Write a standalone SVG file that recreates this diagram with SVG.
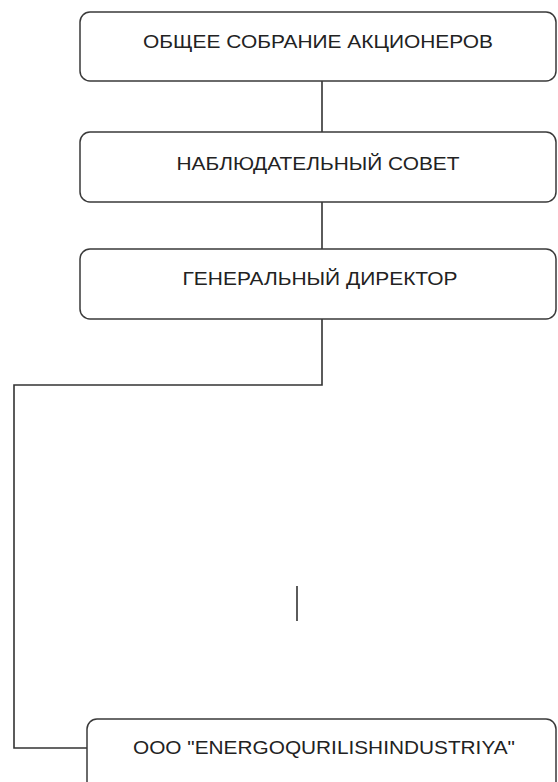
<svg xmlns="http://www.w3.org/2000/svg" width="558" height="782" viewBox="0 0 558 782">
<style>
.box{fill:#fff;stroke:#3a3a3a;stroke-width:1.5}
.lbl{font-family:"Liberation Sans",Arial,sans-serif;font-size:19px;fill:#222;text-anchor:middle}
.con{fill:none;stroke:#333;stroke-width:1.6}
</style>
<rect width="558" height="782" fill="#fff"/>
<g id="connectors">
<line class="con" x1="322" y1="81" x2="322" y2="132"/>
<line class="con" x1="322" y1="202" x2="322" y2="249"/>
<polyline class="con" points="322,319 322,385 14,385 14,748 87,748"/>
<line class="con" x1="297" y1="586" x2="297" y2="621"/>
</g>
<g id="node1">
<rect class="box" x="80" y="12" width="476" height="69" rx="10"/>
<text class="lbl" x="318" y="48" textLength="350" lengthAdjust="spacingAndGlyphs">ОБЩЕЕ СОБРАНИЕ АКЦИОНЕРОВ</text>
</g>
<g id="node2">
<rect class="box" x="80" y="132" width="476" height="70" rx="10"/>
<text class="lbl" x="318" y="170" textLength="283" lengthAdjust="spacingAndGlyphs">НАБЛЮДАТЕЛЬНЫЙ СОВЕТ</text>
</g>
<g id="node3">
<rect class="box" x="80" y="249" width="476" height="70" rx="10"/>
<text class="lbl" x="320" y="285" textLength="275" lengthAdjust="spacingAndGlyphs">ГЕНЕРАЛЬНЫЙ ДИРЕКТОР</text>
</g>
<g id="node4">
<rect class="box" x="87" y="719" width="469" height="90" rx="10"/>
<text class="lbl" x="324" y="754" textLength="382" lengthAdjust="spacingAndGlyphs">OOO "ENERGOQURILISHINDUSTRIYA"</text>
</g>
</svg>
